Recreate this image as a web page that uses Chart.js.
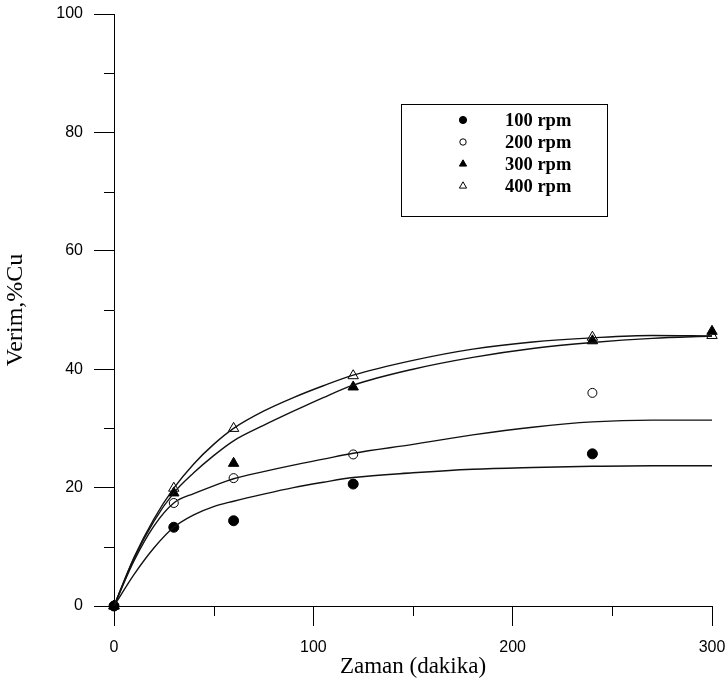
<!DOCTYPE html>
<html>
<head>
<meta charset="utf-8">
<script src="https://cdn.jsdelivr.net/npm/chart.js@4/dist/chart.umd.min.js"></script>
<style>
html,body{margin:0;padding:0;background:#fff;}
#wrap{width:728px;height:687px;position:relative;}
</style>
</head>
<body>
<div id="wrap"><canvas id="c" width="728" height="687"></canvas></div>
<script>
// Measured points (time in minutes, yield %Cu)
const times   = [0, 30, 60, 120, 240, 300];
const rpm100  = [0, 13.3, 14.4, 20.6, 25.7, null];
const rpm200  = [0, 17.4, 21.6, 25.6, 36.0, null];
const rpm300  = [0, 19.1, 24.1, 37.0, 44.8, 46.4];
const rpm400  = [0, 19.9, 30.0, 38.9, 45.4, 45.7];

// Fitted curves
const fitTimes = [0, 10, 20, 30, 40, 50, 60, 75, 90, 105, 120, 150, 180, 210, 240, 270, 300];
const fit100   = [0, 5.3, 9.8, 13.3, 15.4, 16.8, 17.7, 18.9, 20.0, 20.9, 21.7, 22.5, 23.1, 23.4, 23.6, 23.7, 23.7];
const fit200   = [0, 7.6, 13.5, 17.4, 19.0, 20.3, 21.5, 22.7, 23.8, 24.8, 25.8, 27.3, 28.9, 30.2, 31.1, 31.4, 31.4];
const fit300   = [0, 8.0, 14.3, 19.1, 22.5, 25.4, 27.9, 30.5, 32.9, 35.2, 37.3, 40.0, 42.0, 43.5, 44.5, 45.2, 45.6];
const fit400   = [0, 8.2, 14.7, 19.9, 24.0, 27.3, 30.0, 32.9, 35.2, 37.2, 39.0, 41.5, 43.4, 44.6, 45.3, 45.7, 45.6];

const seriesLabels = ['100 rpm', '200 rpm', '300 rpm', '400 rpm'];
const xMajorTicks = [0, 100, 200, 300];
const xMinorTicks = [50, 150, 250];
const yMajorTicks = [0, 20, 40, 60, 80, 100];
const yMinorTicks = [10, 30, 50, 70, 90];

function pts(xs, ys) {
  const out = [];
  xs.forEach((x, i) => { if (ys[i] !== null && ys[i] !== undefined) out.push({x: x, y: ys[i]}); });
  return out;
}

const markerStyles = [
  {pointStyle: 'circle',   radius: 5,   bg: '#000', legendR: 3.6},
  {pointStyle: 'circle',   radius: 4.5, bg: '#fff', legendR: 3.2},
  {pointStyle: 'triangle', radius: 6,   bg: '#000', legendR: 4.2},
  {pointStyle: 'triangle', radius: 6,   bg: '#fff', legendR: 4.2}
];
const pointSeries = [rpm100, rpm200, rpm300, rpm400];
const fitSeries = [fit100, fit200, fit300, fit400];

const datasets = [];
fitSeries.forEach((f, i) => {
  datasets.push({
    label: 'fit ' + seriesLabels[i],
    data: pts(fitTimes, f),
    showLine: true,
    borderColor: '#111',
    borderWidth: 1.4,
    pointRadius: 0,
    pointHoverRadius: 0,
    cubicInterpolationMode: 'monotone',
    fill: false,
    isFit: true
  });
});
pointSeries.forEach((s, i) => {
  const m = markerStyles[i];
  datasets.push({
    label: seriesLabels[i],
    data: pts(times, s),
    showLine: false,
    pointStyle: m.pointStyle,
    pointRadius: m.radius,
    pointBackgroundColor: m.bg,
    pointBorderColor: '#000',
    pointBorderWidth: 1,
    clip: false,
    legendR: m.legendR
  });
});

const minorTickPlugin = {
  id: 'minorTicks',
  afterDraw(chart) {
    const ctx = chart.ctx;
    const xs = chart.scales.x, ys = chart.scales.y;
    ctx.save();
    ctx.strokeStyle = '#000';
    ctx.lineWidth = 1;
    ctx.beginPath();
    yMinorTicks.forEach(v => {
      const py = Math.round(ys.getPixelForValue(v)) + 0.5;
      ctx.moveTo(xs.left - 10, py);
      ctx.lineTo(xs.left, py);
    });
    xMinorTicks.forEach(v => {
      const px = Math.round(xs.getPixelForValue(v)) + 0.5;
      ctx.moveTo(px, ys.bottom);
      ctx.lineTo(px, ys.bottom + 10);
    });
    ctx.stroke();
    ctx.restore();
  }
};

const legendPlugin = {
  id: 'boxLegend',
  afterDatasetsDraw(chart) {
    const ctx = chart.ctx;
    ctx.save();
    ctx.strokeStyle = '#000';
    ctx.lineWidth = 1;
    ctx.strokeRect(401.5, 104.5, 206, 112);
    const rows = [120, 142, 164, 186];
    ctx.font = 'bold 18.5px "Liberation Serif", "Times New Roman", serif';
    ctx.textBaseline = 'middle';
    ctx.textAlign = 'left';
    const pointDs = chart.data.datasets.filter(d => !d.isFit);
    pointDs.forEach((d, i) => {
      ctx.fillStyle = d.pointBackgroundColor;
      ctx.strokeStyle = '#000';
      ctx.lineWidth = 1;
      Chart.helpers.drawPoint(ctx, {pointStyle: d.pointStyle, radius: d.legendR, borderWidth: 1, rotation: 0}, 463, rows[i]);
      ctx.fillStyle = '#000';
      ctx.fillText(d.label, 505, rows[i] + 1);
    });
    ctx.restore();
  }
};

new Chart(document.getElementById('c'), {
  type: 'scatter',
  data: {datasets: datasets},
  plugins: [minorTickPlugin, legendPlugin],
  options: {
    responsive: false,
    devicePixelRatio: 1,
    animation: false,
    events: [],
    layout: {autoPadding: false, padding: {top: 14, right: 16, left: 0, bottom: 0}},
    plugins: {legend: {display: false}, tooltip: {enabled: false}},
    scales: {
      x: {
        type: 'linear',
        min: 0, max: 300,
        afterFit: s => { s.height = 81; s.paddingLeft = 0; s.paddingRight = 0; },
        afterBuildTicks: s => { s.ticks = xMajorTicks.map(v => ({value: v})); },
        ticks: {
          color: '#000',
          font: {family: '"Liberation Sans", Arial, sans-serif', size: 16},
          padding: 12,
          maxRotation: 0,
          callback: v => String(v)
        },
        grid: {display: true, drawOnChartArea: false, drawTicks: true, tickLength: 20, color: '#000', tickColor: '#000'},
        border: {display: true, color: '#000', width: 1},
        title: {
          display: true,
          text: 'Zaman (dakika)',
          color: '#000',
          font: {family: '"Liberation Serif", "Times New Roman", serif', size: 23},
          padding: {top: 0, bottom: 6}
        }
      },
      y: {
        type: 'linear',
        min: 0, max: 100,
        afterFit: s => { s.width = 114; s.paddingTop = 0; s.paddingBottom = 0; },
        afterBuildTicks: s => { s.ticks = yMajorTicks.map(v => ({value: v})); },
        ticks: {
          color: '#000',
          font: {family: '"Liberation Sans", Arial, sans-serif', size: 16},
          padding: 11,
          callback: v => String(v)
        },
        grid: {display: true, drawOnChartArea: false, drawTicks: true, tickLength: 20, color: '#000', tickColor: '#000'},
        border: {display: true, color: '#000', width: 1},
        title: {
          display: true,
          text: 'Verim,%Cu',
          color: '#000',
          font: {family: '"Liberation Serif", "Times New Roman", serif', size: 24},
          padding: {top: 1, bottom: 0}
        }
      }
    }
  }
});
</script>
</body>
</html>
